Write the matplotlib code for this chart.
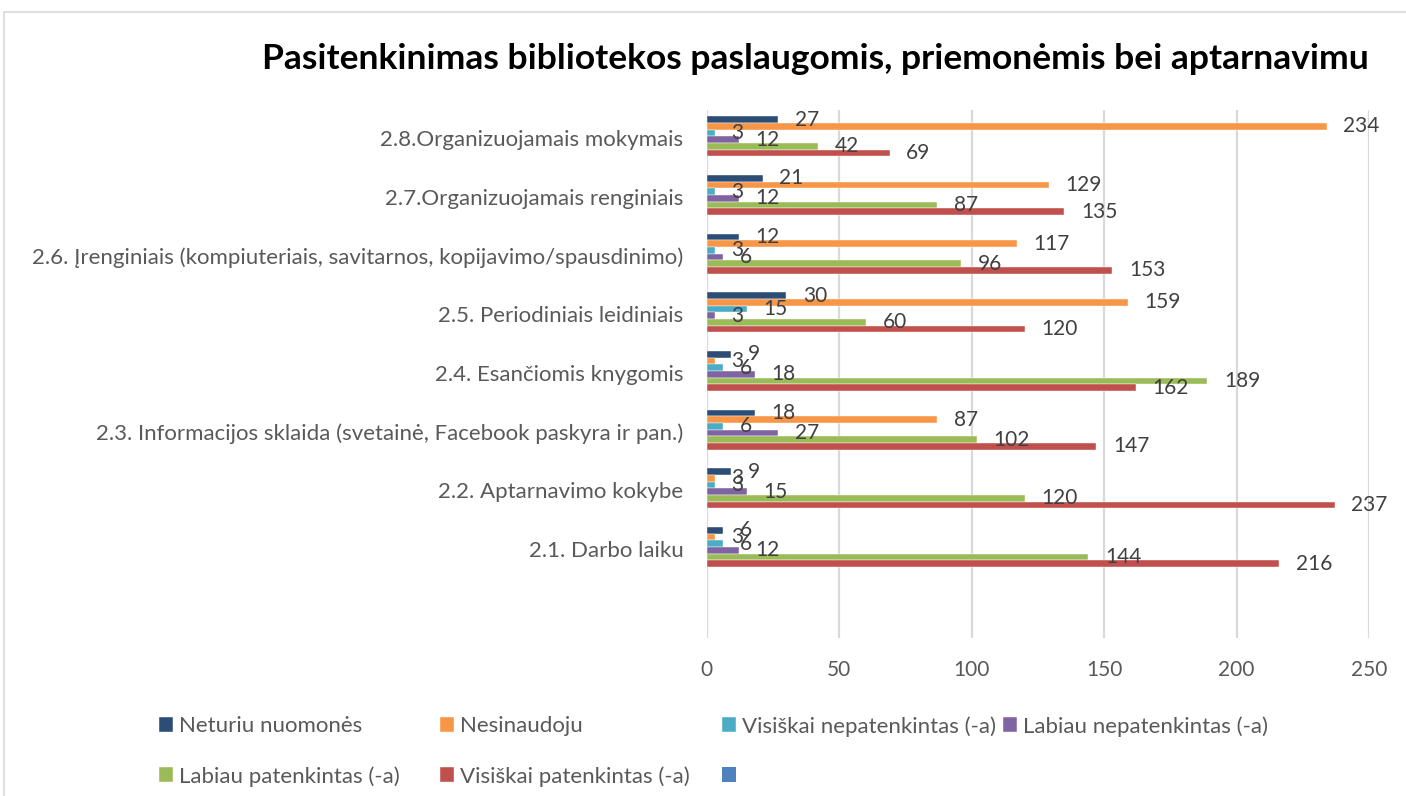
import matplotlib.pyplot as plt
from matplotlib.patches import Patch, Rectangle
import numpy as np

plt.rcParams['font.family'] = ['Lato', 'DejaVu Sans']

categories = [
    "2.1. Darbo laiku",
    "2.2. Aptarnavimo kokybe",
    "2.3. Informacijos sklaida (svetainė, Facebook paskyra ir pan.)",
    "2.4. Esančiomis knygomis",
    "2.5. Periodiniais leidiniais",
    "2.6. Įrenginiais (kompiuteriais, savitarnos, kopijavimo/spausdinimo)",
    "2.7.Organizuojamais renginiais",
    "2.8.Organizuojamais mokymais",
]

neturiu = [6, 9, 18, 9, 30, 12, 21, 27]
nesinaudoju = [3, 3, 87, 3, 159, 117, 129, 234]
visiskai_nep = [6, 3, 6, 6, 15, 3, 3, 3]
labiau_nep = [12, 15, 27, 18, 3, 6, 12, 12]
labiau_pat = [144, 120, 102, 189, 60, 96, 87, 42]
visiskai_pat = [216, 237, 147, 162, 120, 153, 135, 69]

series = [neturiu, nesinaudoju, visiskai_nep, labiau_nep, labiau_pat, visiskai_pat]
names = ["Neturiu nuomonės", "Nesinaudoju", "Visiškai nepatenkintas (-a)",
         "Labiau nepatenkintas (-a)", "Labiau patenkintas (-a)", "Visiškai patenkintas (-a)"]
colors = ["#2c4d75", "#f79646", "#4bacc6", "#8064a2", "#9bbb59", "#c0504d"]
empty_color = "#4f81bd"

text_col = "#595959"

fig = plt.figure(figsize=(14.06, 7.96), dpi=100)
ax = fig.add_axes([0.5028, 0.1985, 0.4709, 0.6633])

# chart frame
fig.patches.append(Rectangle((4 / 1406, -0.1), 1.2, 1 - 12 / 796 + 0.1,
                             transform=fig.transFigure, fill=False,
                             edgecolor="#d9d9d9", linewidth=1.2))

y = np.arange(len(categories))
h = 0.114
handles = []
for i, (vals, name, col) in enumerate(zip(series, names, colors)):
    bars = ax.barh(y + (2.5 - i) * h + 0.05, vals, height=h, color=col,
                   edgecolor="white", linewidth=0.3, label=name)
    ax.bar_label(bars, padding=12, fontsize=15, color="#404040")
    handles.append(bars)

ax.set_xlim(0, 250)
ax.set_ylim(-1.5, 7.5)
ax.set_xticks(range(0, 251, 50))
ax.set_yticks(y + 0.02)
ax.set_yticklabels(categories)
ax.tick_params(axis='both', length=0, labelcolor=text_col)
ax.tick_params(axis='y', pad=17, labelsize=16)
ax.tick_params(axis='x', pad=16, labelsize=15)
ax.grid(axis='x', color="#d9d9d9", linewidth=1.6)
ax.set_axisbelow(True)
for s in ax.spines.values():
    s.set_visible(False)

fig.text(0.58, 0.926, "Pasitenkinimas bibliotekos paslaugomis, priemonėmis bei aptarnavimu",
         ha='center', va='center', fontsize=25.5, fontweight='bold', color="black")

# legend columns placed one by one, like the Excel layout
empty = Patch(facecolor=empty_color, label=" ")
columns = [([handles[0], handles[4]], [names[0], names[4]], 159),
           ([handles[1], handles[5]], [names[1], names[5]], 440),
           ([handles[2], empty], [names[2], ""], 722),
           ([handles[3]], [names[3]], 1003)]
for hs, labs, x0 in columns:
    fig.legend(hs, labs, loc='upper left',
               bbox_to_anchor=(x0 / 1406, 1 - 716 / 796),
               frameon=False, fontsize=16, labelcolor=text_col,
               handlelength=0.65, handleheight=0.65, handletextpad=0.25,
               borderpad=0, borderaxespad=0, labelspacing=1.35)

fig.savefig("out.png", dpi=100)
